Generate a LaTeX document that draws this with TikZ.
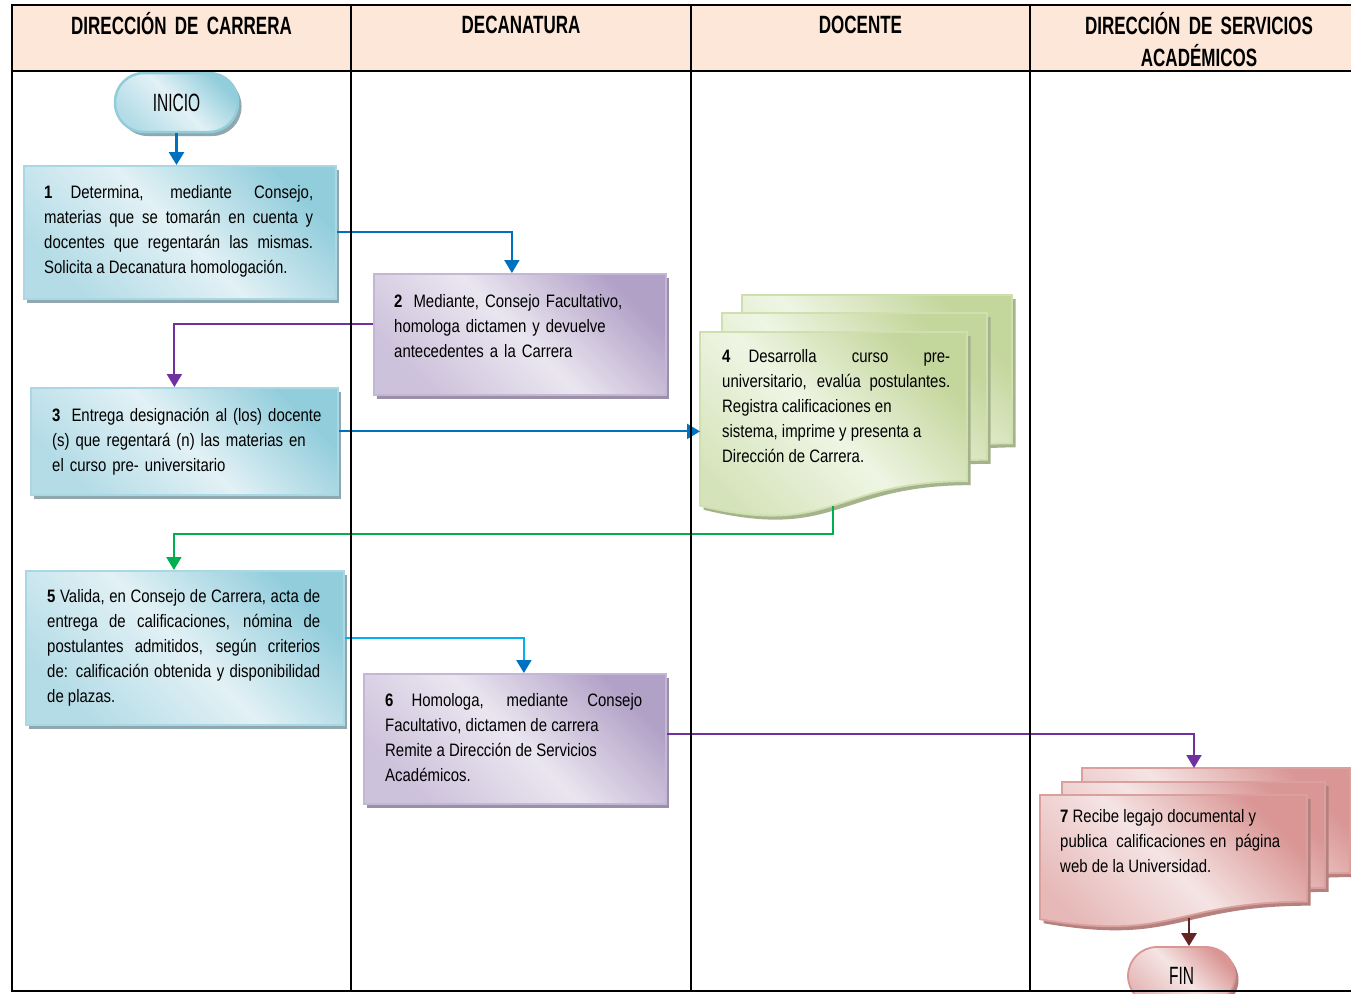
\documentclass[tikz,border=0pt]{standalone}
\usepackage{fontspec}
\setmainfont{Liberation Sans}
\newfontfamily\bodyfont[FakeStretch=0.83]{Liberation Sans}
\newfontfamily\capfont[FakeStretch=0.62]{Liberation Sans}
\newfontfamily\hdrfont[FakeStretch=0.68]{Liberation Sans}
\usetikzlibrary{arrows.meta,shadows,calc}

\definecolor{hdrfill}{HTML}{FCE7D9}
\definecolor{blueD}{HTML}{92CDDC}
\definecolor{blueL}{HTML}{E2F1F5}
\definecolor{blueM}{HTML}{B4DCE7}
\definecolor{blueB}{HTML}{A9D8E4}
\definecolor{blueS}{HTML}{8FA7AE}
\definecolor{purpD}{HTML}{B2A1C7}
\definecolor{purpL}{HTML}{EAE6F0}
\definecolor{purpM}{HTML}{CDC2DB}
\definecolor{purpB}{HTML}{C4B7D6}
\definecolor{purpS}{HTML}{9A90A8}
\definecolor{greenD}{HTML}{C3D69B}
\definecolor{greenL}{HTML}{EFF5E4}
\definecolor{greenM}{HTML}{D5E3BA}
\definecolor{greenB}{HTML}{CFDFB0}
\definecolor{greenS}{HTML}{A5B38D}
\definecolor{pinkD}{HTML}{D99694}
\definecolor{pinkL}{HTML}{F5E4E4}
\definecolor{pinkM}{HTML}{E6B9B8}
\definecolor{pinkB}{HTML}{D9A09E}
\definecolor{pinkS}{HTML}{B5817F}
\definecolor{cblue}{HTML}{0070C0}
\definecolor{clight}{HTML}{00B0F0}
\definecolor{cpurple}{HTML}{7030A0}
\definecolor{cgreen}{HTML}{00B050}
\definecolor{cdarkred}{HTML}{632523}

% one sheet of a document symbol with a wavy lower edge
% #1 style, #2 left, #3 top, #4 right, #5 height
\newcommand{\docsheet}[5]{%
  \path[#1] (#2,#3) -- (#4,#3) -- (#4,{#3+0.802*#5})
    .. controls ({(#2+#4)/2},{#3+0.802*#5}) and ({(#2+#4)/2},{#3+1.1075*#5})
    .. (#2,{#3+0.934*#5}) -- cycle;}

\tikzset{
  lane/.style={draw=black, line width=2pt},
  hdrtxt/.style={anchor=north, inner sep=0pt, text width=330pt, align=center,
    font={\hdrfont\bfseries\fontsize{25}{30}\selectfont}},
  procbox/.style={rectangle, anchor=north west, inner sep=0pt, line width=1.8pt},
  bluefill/.style={draw=blueB, top color=blueD, bottom color=blueM, middle color=blueL,
    shading angle=-45, drop shadow={shadow xshift=3.5pt, shadow yshift=-4pt, fill=blueS, opacity=1}},
  purpfill/.style={draw=purpB, top color=purpD, bottom color=purpM, middle color=purpL,
    shading angle=-45, drop shadow={shadow xshift=3.5pt, shadow yshift=-4pt, fill=purpS, opacity=1}},
  greenfill/.style={draw=greenB, line width=1.8pt, top color=greenD, bottom color=greenM, middle color=greenL,
    shading angle=-45, drop shadow={shadow xshift=3.5pt, shadow yshift=-4pt, fill=greenS, opacity=1}},
  pinkfill/.style={draw=pinkB, line width=1.8pt, top color=pinkD, bottom color=pinkM, middle color=pinkL,
    shading angle=-45, drop shadow={shadow xshift=3.5pt, shadow yshift=-4pt, fill=pinkS, opacity=1}},
  terminal/.style={rectangle, rounded corners=29pt, inner sep=0pt, line width=2.5pt,
    font={\capfont\fontsize{25}{28}\selectfont}},
  txt/.style={anchor=north west, inner sep=0pt,
    font={\bodyfont\fontsize{18}{25}\selectfont}},
  conn/.style={line width=2pt, -{Triangle[width=15pt,length=13pt]}},
}

\begin{document}
\begin{tikzpicture}[x=1pt,y=-1pt]
\useasboundingbox (0,0) rectangle (1351,993);
\fill[white] (0,0) rectangle (1351,993);

% lane headers
\fill[hdrfill] (12,5) rectangle (1351,71);
\node[hdrtxt] (h1) at (181.5,12) {\strut DIRECCIÓN DE CARRERA};
\node[hdrtxt] (h2) at (521,12) {\strut DECANATURA};
\node[hdrtxt] (h3) at (860.5,12) {\strut DOCENTE};
\node[hdrtxt] (h4) at (1199,12) {\strut DIRECCIÓN DE SERVICIOS\\ACADÉMICOS};

% start
\node[terminal, bluefill, draw=blueD, minimum width=123pt, minimum height=59pt] (i) at (176.5,102.5) {INICIO};

% process boxes
\node[procbox, bluefill, minimum width=312pt, minimum height=133pt] (b1) at (23,165) {};
\node[txt, text width=269pt, align=justify] (t1) at (44,180.5)
  {\strut\textbf{1}\quad Determina, mediante Consejo,\linebreak materias que se tomarán en cuenta y\linebreak docentes que regentarán las mismas.\linebreak Solicita a Decanatura homologación.};

\node[procbox, purpfill, minimum width=292pt, minimum height=121pt] (b2) at (373,273) {};
\node[txt, text width=265pt, align=left] (t2) at (394,289.5)
  {\strut\textbf{2}\; Mediante, Consejo Facultativo,\\ homologa dictamen y devuelve\\ antecedentes a la Carrera};

\node[procbox, bluefill, minimum width=307pt, minimum height=107pt] (b3) at (30,387) {};
\node[txt, text width=280pt, align=left] (t3) at (52,403.5)
  {\strut\textbf{3}\; Entrega designación al (los) docente\\ (s) que regentará (n) las materias en\\ el curso pre- universitario};

% document stack, step 4
\docsheet{greenfill}{742}{295}{1012}{185}
\docsheet{greenfill}{722}{313}{987}{183}
\docsheet{greenfill}{700}{332}{967}{186}
\coordinate (d4w) at (700,430);
\coordinate (d4s) at (833,506);
\node[txt, text width=228pt, align=justify] (t4) at (722,344.5)
  {\strut\textbf{4}\quad Desarrolla curso pre-\linebreak universitario, evalúa postulantes.\linebreak Registra calificaciones en\\ sistema, imprime y presenta a\\ Dirección de Carrera.};

\node[procbox, bluefill, minimum width=318pt, minimum height=154pt] (b5) at (25,570) {};
\node[txt, text width=273pt, align=justify] (t5) at (47,584.5)
  {\strut\textbf{5} Valida, en Consejo de Carrera, acta de\linebreak entrega de calificaciones, nómina de\linebreak postulantes admitidos, según criterios\linebreak de: calificación obtenida y disponibilidad\linebreak de plazas.};

\node[procbox, purpfill, minimum width=302pt, minimum height=130pt] (b6) at (363,673) {};
\node[txt, text width=257pt, align=justify] (t6) at (385,688.5)
  {\strut\textbf{6}\quad Homologa, mediante Consejo\linebreak Facultativo, dictamen de carrera\\ Remite a Dirección de Servicios\\ Académicos.};

% document stack, step 7
\docsheet{pinkfill}{1082}{768}{1350}{131}
\docsheet{pinkfill}{1062}{782}{1325}{132}
\docsheet{pinkfill}{1040}{795}{1307}{133}
\coordinate (d7n) at (1194,768);
\coordinate (d7s) at (1189,918);
\node[txt, text width=220pt, align=justify] (t7) at (1060,804.5)
  {\strut\textbf{7} Recibe legajo documental y\\ publica\ \ calificaciones en\ \ página\linebreak web de la Universidad.};

% end
\node[terminal, pinkfill, draw=pinkD, minimum width=107pt, minimum height=58pt] (f) at (1181.5,976) {FIN};

% connectors
\draw[conn, cblue, line width=2.8pt] (i.south) -- (i.south |- b1.north);
\draw[conn, cblue] (b1.east) -| ([xshift=-8pt]b2.north);
\draw[conn, cpurple] ([yshift=10.5pt]b2.west) -| ([xshift=-10pt]b3.north);
\draw[conn, cblue] ([yshift=10pt]b3.east) -- ([yshift=10pt]b3.east -| d4w);
\draw[conn, cgreen] (d4s) -- ++(0,28) -| ([xshift=-11pt]b5.north);
\draw[line width=2pt, clight, -{Triangle[width=15pt,length=13pt,color=cblue]}]
  ([yshift=10pt]b5.east) -| ([xshift=9pt]b6.north);
\draw[conn, cpurple] ([yshift=5pt]b6.east) -| (d7n);
\draw[conn, cdarkred, line width=2.8pt] (d7s) -- (d7s |- f.north);

% lane frame
\draw[lane] (12,5) -- (1351,5);
\draw[lane] (12,71) -- (1351,71);
\draw[lane] (12,4) -- (12,991) -- (1351,991);
\draw[lane] (351,5) -- (351,991);
\draw[lane] (691,5) -- (691,991);
\draw[lane] (1030,5) -- (1030,991);
\end{tikzpicture}
\end{document}
